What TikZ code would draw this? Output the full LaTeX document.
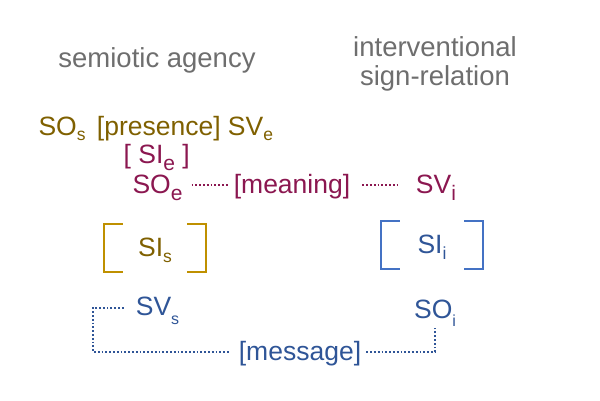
\documentclass[tikz,border=0pt]{standalone}
\usepackage{fontspec}
\setmainfont{Liberation Sans}
\usepackage{xcolor}
\definecolor{headgrey}{HTML}{6E6E6E}
\definecolor{agencytext}{HTML}{7F6000}
\definecolor{agencybr}{HTML}{BF9000}
\definecolor{meaningtext}{HTML}{8B1750}
\definecolor{msgtext}{HTML}{2F5597}
\definecolor{msgbr}{HTML}{4472C4}
\usepackage{tikz}
% lowered index: size, drop, text
\newcommand\lowsub[3]{\raisebox{-#2pt}{\fontsize{#1}{#1}\selectfont #3}}

\begin{document}
\begin{tikzpicture}[x=1pt,y=-1pt,
        head/.style={text=headgrey,font=\fontsize{27.5}{29.5}\selectfont,align=center},
        lbl/.style={font=\fontsize{26.5}{30}\selectfont,text height=16pt,text depth=0pt,inner xsep=5pt,inner ysep=0pt},
        brk/.style={minimum width=102pt,minimum height=47pt},
        dots/.style={line width=1.8pt,dash pattern=on 1.8pt off 2pt}]
                \useasboundingbox (0,0) rectangle (600,400);
                \node[head,anchor=base] (agency) at (157,67) {semiotic agency};
                \node[head] (relation) at (435,64) {interventional\\sign-relation};
                \node[lbl,anchor=base west,inner xsep=0pt,text=agencytext] (presence) at (38.3,135) {SO\lowsub{17.5}{5}{s}\hspace{4pt} [presence] SV\lowsub{17.5}{5}{e}};
                \node[lbl,anchor=base,text=meaningtext] (sie) at (156.7,163.3) {[ SI\lowsub{21}{7.5}{e} ]};
                \node[lbl,anchor=base,text=meaningtext] (soe) at (157.5,193.3) {SO\lowsub{21}{7}{e}};
                \node[lbl,anchor=base,text=meaningtext] (meaning) at (292,193.3) {[meaning]};
                \node[lbl,anchor=base,text=meaningtext] (svi) at (436,193.3) {SV\lowsub{21}{7}{i}};
                \node[lbl,brk,text=agencytext] (sis) at (155,248) {SI\lowsub{17.5}{6}{s}};
                \node[lbl,brk,text=msgtext] (sii) at (432,245) {SI\lowsub{17.5}{6}{i}};
                \node[lbl,anchor=base,text=msgtext] (svs) at (157.5,315.7) {SV\lowsub{16}{8.5}{s}};
                \node[lbl,anchor=base,text=msgtext] (soi) at (435,318) {SO\lowsub{16}{8.5}{i}};
                \node[lbl,anchor=base,text=msgtext] (message) at (300,360) {[message]};
                \coordinate (msgcorner) at (93,330);
                % brackets round the interpretants
                \foreach \n/\c in {sis/agencybr,sii/msgbr}{
                    \draw[line width=2pt,\c] ([xshift=19pt]\n.north west) -| (\n.south west) -- ++(19,0);
                    \draw[line width=2pt,\c] ([xshift=-19pt]\n.north east) -| (\n.south east) -- ++(-19,0);
                }
                \draw[dots,meaningtext,shorten <=4pt,shorten >=1pt] (soe) -- (meaning);
                \draw[dots,meaningtext,shorten <=7pt,shorten >=12pt] (meaning) -- (svi);
                \draw[dots,msgtext,shorten <=7pt,shorten >=4pt] (svs) -| (msgcorner) |- (message);
                \draw[dots,msgtext,shorten >=10pt] (message) -| (soi);
            \end{tikzpicture}
\end{document}
